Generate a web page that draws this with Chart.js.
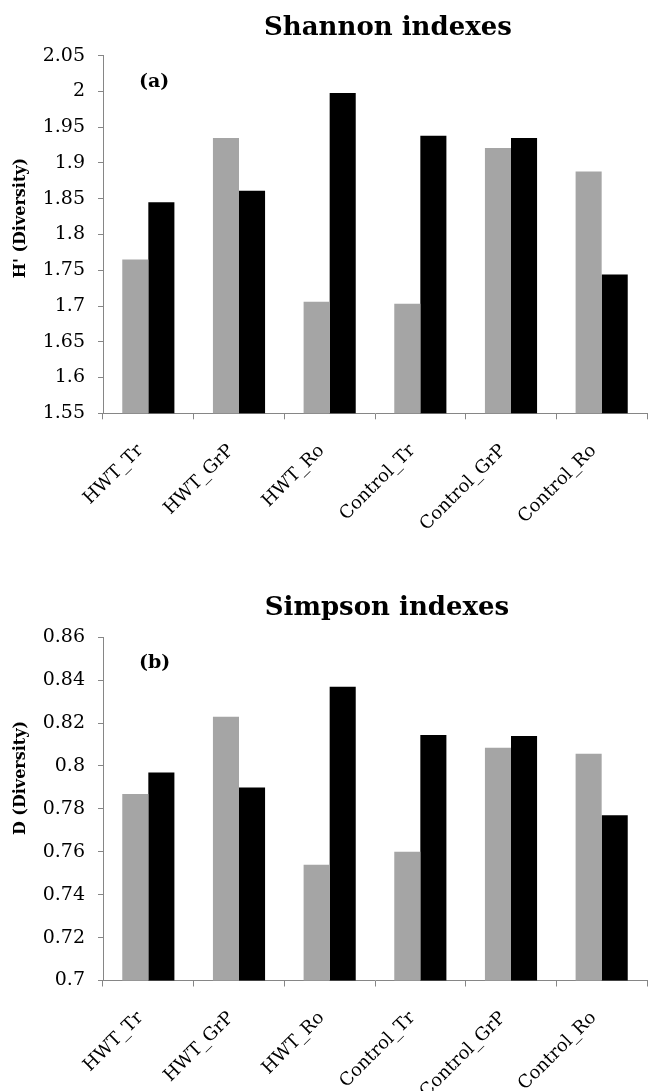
<!DOCTYPE html>
<html>
<head>
<meta charset="utf-8">
<script src="https://cdn.jsdelivr.net/npm/chart.js@4/dist/chart.umd.min.js"></script>
<style>
  body { margin: 0; background: #fff; }
  canvas { display: block; }
</style>
</head>
<body>
<canvas id="shannon" width="648" height="545"></canvas>
<canvas id="simpson" width="648" height="546"></canvas>
<script>
var categories = ['HWT_Tr', 'HWT_GrP', 'HWT_Ro', 'Control_Tr', 'Control_GrP', 'Control_Ro'];

var shannonGrey = [1.765, 1.935, 1.706, 1.703, 1.921, 1.888];
var shannonBlack = [1.845, 1.861, 1.998, 1.938, 1.935, 1.744];
var shannonTicks = [1.55, 1.6, 1.65, 1.7, 1.75, 1.8, 1.85, 1.9, 1.95, 2, 2.05];

var simpsonGrey = [0.787, 0.823, 0.754, 0.760, 0.8085, 0.8057];
var simpsonBlack = [0.797, 0.790, 0.837, 0.8145, 0.814, 0.777];
var simpsonTicks = [0.7, 0.72, 0.74, 0.76, 0.78, 0.8, 0.82, 0.84, 0.86];

var axisGrey = '#868686';
var serif = '"DejaVu Serif", serif';

Chart.defaults.font.family = serif;
Chart.defaults.color = '#000';

// chart title, panel letter and y-axis title, drawn on top of the chart
var panelText = {
  id: 'panelText',
  afterDraw: function (chart, args, opts) {
    var ctx = chart.ctx;
    ctx.save();
    ctx.fillStyle = '#000';

    ctx.font = 'bold 26px ' + serif;
    ctx.textAlign = 'center';
    ctx.textBaseline = 'alphabetic';
    ctx.fillText(opts.title, opts.titleX, opts.titleY);

    ctx.font = 'bold 19px ' + serif;
    ctx.textAlign = 'left';
    ctx.textBaseline = 'middle';
    ctx.fillText(opts.tag, opts.tagX, opts.tagY);

    ctx.translate(opts.yTitleX, opts.yTitleY);
    ctx.rotate(-Math.PI / 2);
    ctx.font = 'bold 16px ' + serif;
    ctx.textAlign = 'center';
    ctx.fillText(opts.yTitle, 0, 0);
    ctx.restore();
  }
};

function makeChart(id, grey, black, ticks, text, top, xHeight) {
  return new Chart(document.getElementById(id), {
    type: 'bar',
    data: {
      labels: categories,
      datasets: [
        { label: 'Series1', data: grey, backgroundColor: '#a5a5a5' },
        { label: 'Series2', data: black, backgroundColor: '#000' }
      ]
    },
    plugins: [panelText],
    options: {
      responsive: false,
      animation: false,
      layout: { padding: { top: top, right: 1, left: 0, bottom: 0 } },
      datasets: { bar: { categoryPercentage: 0.575, barPercentage: 1.0, borderWidth: 0 } },
      plugins: {
        legend: { display: false },
        tooltip: { enabled: false },
        panelText: text
      },
      scales: {
        x: {
          grid: { offset: true, drawOnChartArea: false, tickLength: 6, color: axisGrey },
          border: { color: axisGrey, width: 1 },
          ticks: {
            font: { size: 18 },
            minRotation: 45,
            maxRotation: 45,
            autoSkip: false,
            padding: 21,
            labelOffset: -8
          },
          afterFit: function (s) { s.height = xHeight; }
        },
        y: {
          min: ticks[0],
          max: ticks[ticks.length - 1],
          grid: { drawOnChartArea: false, tickLength: 5, color: axisGrey },
          border: { color: axisGrey, width: 1 },
          ticks: {
            font: { size: 19 },
            padding: 13,
            callback: function (v) { return String(+v.toFixed(2)); }
          },
          afterBuildTicks: function (s) {
            s.ticks = ticks.map(function (v) { return { value: v }; });
          },
          afterFit: function (s) { s.width = 103; }
        }
      }
    }
  });
}

makeChart('shannon', shannonGrey, shannonBlack, shannonTicks, {
  title: 'Shannon indexes', titleX: 388, titleY: 35,
  tag: '(a)', tagX: 139, tagY: 82,
  yTitle: "H' (Diversity)", yTitleX: 21, yTitleY: 218
}, 55.7, 131.7);

makeChart('simpson', simpsonGrey, simpsonBlack, simpsonTicks, {
  title: 'Simpson indexes', titleX: 387, titleY: 70,
  tag: '(b)', tagX: 139, tagY: 118,
  yTitle: 'D (Diversity)', yTitleX: 21, yTitleY: 233
}, 92.3, 110.5);
</script>
</body>
</html>
